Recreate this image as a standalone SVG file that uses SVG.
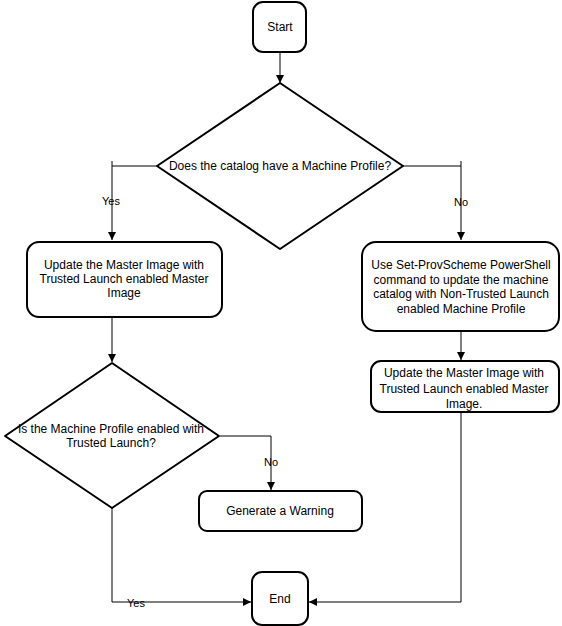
<svg xmlns="http://www.w3.org/2000/svg" width="562" height="626" viewBox="0 0 562 626">
<defs>
<style>
.node{fill:#fff;stroke:#000;stroke-width:2;stroke-linejoin:round}
.t{font-family:"Liberation Sans",Arial,sans-serif;font-size:12px;fill:#000;text-anchor:middle;dominant-baseline:central}
.lbl{font-family:"Liberation Sans",Arial,sans-serif;font-size:11px;fill:#000;text-anchor:middle;dominant-baseline:central}
.c{fill:none;stroke:#000;stroke-width:1}
</style>
<marker id="ah" viewBox="0 0 10 10" refX="10" refY="5" markerWidth="8" markerHeight="8" markerUnits="userSpaceOnUse" orient="auto">
<path d="M0,0 L10,5 L0,10 z" fill="#000"/>
</marker>
</defs>
<rect width="562" height="626" fill="#fff"/>
<g id="connectors">
<path class="c" d="M280,52 V83" marker-end="url(#ah)"/>
<path class="c" d="M112,161 V166 M157,166 H112 V240" marker-end="url(#ah)"/>
<path class="c" d="M461,161 V166 M403,166 H461 V240" marker-end="url(#ah)"/>
<path class="c" d="M112,317 V362" marker-end="url(#ah)"/>
<path class="c" d="M461,331 V360" marker-end="url(#ah)"/>
<path class="c" d="M220,436 H271 V490" marker-end="url(#ah)" stroke="#444"/>
<path class="c" d="M112,508 V602 H251" marker-end="url(#ah)"/>
<path class="c" d="M461,412 V602 H309" marker-end="url(#ah)"/>
<text class="lbl" x="111" y="201">Yes</text>
<text class="lbl" x="461" y="202">No</text>
<text class="lbl" x="271" y="462">No</text>
<text class="lbl" x="136" y="603">Yes</text>
</g>
<g id="start">
<rect class="node" x="253" y="2" width="53" height="50" rx="10"/>
<text class="t" x="280" y="27">Start</text>
</g>
<g id="decision1">
<polygon class="node" points="280,83 403,166 280,249 157,166"/>
<text class="t" x="280" y="166">Does the catalog have a Machine Profile?</text>
</g>
<g id="update-left">
<rect class="node" x="27" y="242" width="195" height="75" rx="12"/>
<text class="t" x="124" y="265">Update the Master Image with</text>
<text class="t" x="124" y="279">Trusted Launch enabled Master</text>
<text class="t" x="124" y="293">Image</text>
</g>
<g id="set-provscheme">
<rect class="node" x="362" y="242" width="197" height="89" rx="14"/>
<text class="t" x="461" y="265">Use Set-ProvScheme PowerShell</text>
<text class="t" x="461" y="279.5">command to update the machine</text>
<text class="t" x="461" y="294">catalog with Non-Trusted Launch</text>
<text class="t" x="461" y="308.5">enabled Machine Profile</text>
</g>
<g id="update-right">
<rect class="node" x="371" y="361" width="188" height="51" rx="10"/>
<text class="t" x="464" y="373">Update the Master Image with</text>
<text class="t" x="464" y="388.5">Trusted Launch enabled Master</text>
<text class="t" x="464" y="404">Image.</text>
</g>
<g id="decision2">
<polygon class="node" points="112,363 219,436 112,508 5,436"/>
<text class="t" x="111" y="429">Is the Machine Profile enabled with</text>
<text class="t" x="111" y="443">Trusted Launch?</text>
</g>
<g id="warning">
<rect class="node" x="199" y="491" width="163" height="40" rx="8"/>
<text class="t" x="280" y="511">Generate a Warning</text>
</g>
<g id="end">
<rect class="node" x="252" y="572" width="56" height="53" rx="10"/>
<text class="t" x="280" y="599">End</text>
</g>
</svg>
